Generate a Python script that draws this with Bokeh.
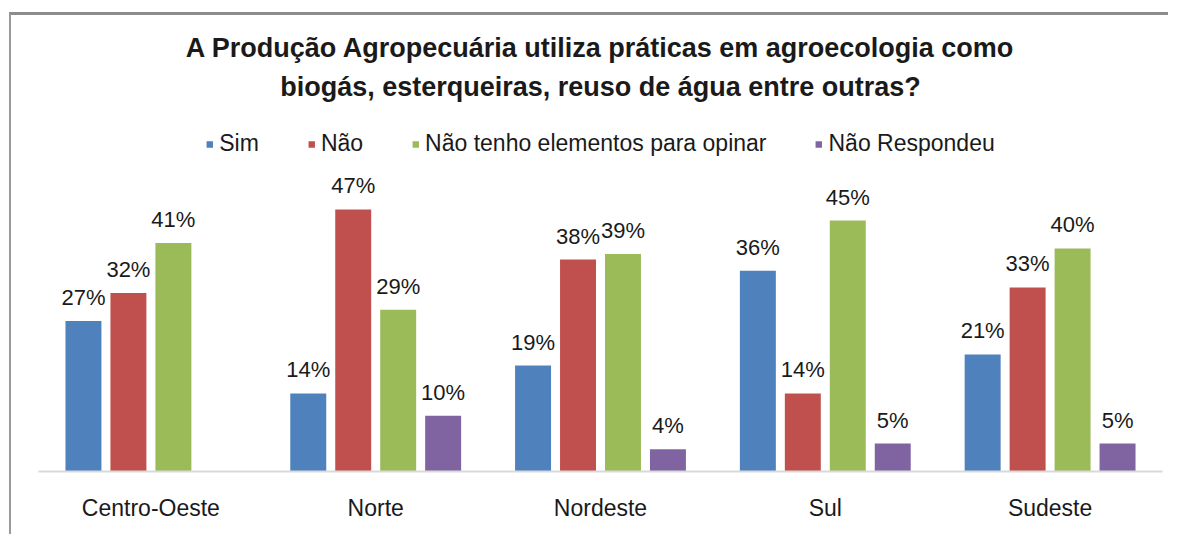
from bokeh.plotting import figure
from bokeh.models import ColumnDataSource, FactorRange, Legend, LegendItem, LabelSet, Title
from bokeh.core.properties import value
from bokeh.transform import dodge
from bokeh.embed import file_html
from bokeh.resources import INLINE

# ---- data ----
categories = ["Centro-Oeste", "Norte", "Nordeste", "Sul", "Sudeste"]
series_names = ["Sim", "Não", "Não tenho elementos para opinar", "Não Respondeu"]
sim = [27, 14, 19, 36, 21]
nao = [32, 47, 38, 14, 33]
sem_elementos = [41, 29, 39, 45, 40]
nao_respondeu = [0, 10, 4, 5, 5]
title_lines = [
    "A Produção Agropecuária utiliza práticas em agroecologia como",
    "biogás, esterqueiras, reuso de água entre outras?",
]

colors = ["#4F81BD", "#C0504D", "#9BBB59", "#8064A2"]
FONT = "Liberation Sans"
TEXT = "#1a1a1a"

series_values = [sim, nao, sem_elementos, nao_respondeu]
offsets = [-0.3, -0.1, 0.1, 0.3]

p = figure(
    x_range=FactorRange(*categories),
    y_range=(0, 65.1),
    width=1159,
    height=522,
    output_backend="svg",
    toolbar_location=None,
    title=None,
    min_border_left=27,
    min_border_right=8,
    min_border_top=0,
    min_border_bottom=81,
)
p.styles = {
    "border-top": "3px solid #8c8c8c",
    "border-left": "2px solid #9a9a9a",
    "margin-top": "12px",
    "margin-left": "9px",
    "padding-top": "15px",
}

# two centred title lines (the later one added sits further from the plot)
p.add_layout(Title(text=title_lines[1], align="center", text_font=FONT,
                   text_font_size="27px", text_font_style="bold",
                   text_color=TEXT, standoff=14), "above")
p.add_layout(Title(text=title_lines[0], align="center", text_font=FONT,
                   text_font_size="27px", text_font_style="bold",
                   text_color=TEXT, standoff=0, text_line_height=0.8), "above")

items = []
for name, vals, off, col in zip(series_names, series_values, offsets, colors):
    src = ColumnDataSource(dict(
        cat=categories,
        val=vals,
        lbl=[f"{v}%" if v > 0 else "" for v in vals],
    ))
    r = p.vbar(x=dodge("cat", off, range=p.x_range), top="val", width=0.16,
               source=src, fill_color=col, line_color=None)
    items.append(LegendItem(label=name, renderers=[r]))
    labels = LabelSet(x=dodge("cat", off, range=p.x_range), y="val", text="lbl",
                      source=src, text_align="center", text_baseline="alphabetic",
                      y_offset=16, text_font=value(FONT), text_font_size="22px",
                      text_color=TEXT)
    p.add_layout(labels)

legend = Legend(items=items, orientation="horizontal", location="top_center",
                glyph_width=8, glyph_height=8, label_standoff=6, spacing=48,
                padding=0, margin=22, border_line_color=None,
                background_fill_alpha=0,
                label_text_font=FONT, label_text_font_size="23px",
                label_text_color=TEXT)
p.add_layout(legend)

p.yaxis.visible = False
p.xgrid.grid_line_color = None
p.ygrid.grid_line_color = None
p.outline_line_color = None
p.xaxis.axis_line_color = "#d9d9d9"
p.xaxis.axis_line_width = 2
p.xaxis.major_tick_line_color = None
p.xaxis.major_tick_out = 0
p.xaxis.major_tick_in = 0
p.xaxis.major_label_text_font = FONT
p.xaxis.major_label_text_font_size = "23px"
p.xaxis.major_label_text_color = TEXT
p.xaxis.major_label_standoff = 23

open("out.html", "w").write(file_html(p, INLINE))
